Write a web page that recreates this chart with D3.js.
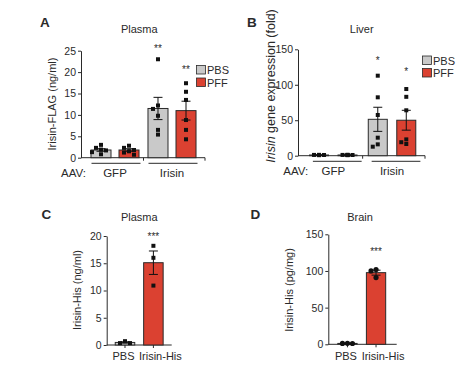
<!DOCTYPE html>
<html><head><meta charset="utf-8">
<script src="https://cdn.jsdelivr.net/npm/d3@7"></script>
<style>body{margin:0;background:#fff}svg{display:block}</style>
</head><body>
<script>
// ---------------- DATA ----------------
const aavGroups = ["GFP", "Irisin"];
const treatments = ["PBS", "PFF"];

// Panel A: Plasma Irisin-FLAG (ng/ml) [group][treatment]
const aMeans = [[1.8, 1.8], [11.5, 11.0]];
const aSem = [[0.3, 0.3], [2.6, 2.2]];
const aPoints = [
  [[3.0, 2.3, 1.9, 1.7, 1.3, 0.8], [2.8, 2.3, 1.8, 1.5, 1.2, 0.7]],
  [[23.0, 12.2, 11.4, 9.8, 6.5, 5.4], [17.4, 15.4, 13.5, 8.8, 6.5, 4.3]]
];
const aSig = [["", ""], ["**", "**"]];
const aSigAt = [[0, 0], [26, 21]];
const aTicks = [0, 5, 10, 15, 20, 25];

// Panel B: Liver Irisin gene expression (fold)
const bMeans = [[1.0, 1.0], [51.3, 50.0]];
const bSem = [[0.3, 0.3], [17, 14]];
const bPoints = [
  [[1.2, 0.8, 1.0, 1.1, 0.9, 1.0], [1.3, 0.9, 1.0, 1.1, 0.8, 1.0]],
  [[112.8, 82.3, 57.4, 25.4, 16.0, 12.7], [94, 83, 64, 23, 19, 16.5]]
];
const bSig = [["", ""], ["*", "*"]];
const bSigAt = [[0, 0], [137, 121]];
const bTicks = [0, 50, 100, 150];

// Panel C: Plasma Irisin-His (ng/ml)
const cCats = ["PBS", "Irisin-His"];
const cMeans = [0.47, 15.1];
const cSem = [0.12, 2.15];
const cPoints = [[0.7, 0.35, 0.35], [18.2, 16.0, 10.9]];
const cSig = ["", "***"];
const cSigAt = [0, 20.2];
const cTicks = [0, 5, 10, 15, 20];

// Panel D: Brain Irisin-His (pg/mg)
const dCats = ["PBS", "Irisin-His"];
const dMeans = [1.2, 97.7];
const dSem = [0.2, 3.4];
const dPoints = [[1.3, 1.2, 1.1], [102, 100, 91]];
const dSig = ["", "***"];
const dSigAt = [0, 129];
const dTicks = [0, 50, 100, 150];

// ---------------- STYLE ----------------
const FONT = "'Liberation Sans', Arial, Helvetica, sans-serif";
const INK = "#2a2a2a";
const GRAY = "#c9c9c9";
const RED = "#db4131";
const fillFor = {PBS: GRAY, PFF: RED, "Irisin-His": RED};

const svg = d3.select("body").append("svg")
  .attr("width", 465).attr("height", 367)
  .style("font-family", FONT);

function txt(x, y, s, size, opts = {}) {
  return svg.append("text").attr("x", x).attr("y", y).text(s)
    .attr("font-size", size).attr("fill", INK)
    .attr("text-anchor", opts.anchor || "middle")
    .attr("font-weight", opts.weight || "normal");
}

// deterministic beeswarm offsets
function swarm(vals, y, thr, steps) {
  const placed = [];
  const order = vals.map((v, i) => i).sort((a, b) => vals[b] - vals[a]);
  const out = new Array(vals.length);
  order.forEach(i => {
    const py = y(vals[i]);
    for (const dx of steps) {
      if (placed.every(p => Math.hypot(p.x - dx, p.y - py) >= thr)) {
        placed.push({x: dx, y: py}); out[i] = dx; return;
      }
    }
    out[i] = 0;
  });
  return out;
}

function yAxis(y, ticks, x) {
  const g = svg.append("g").attr("transform", `translate(${x},0)`)
    .call(d3.axisLeft(y).tickValues(ticks).tickSize(3).tickPadding(2).tickSizeOuter(0));
  g.select(".domain").attr("stroke", INK);
  g.selectAll(".tick line").attr("stroke", INK);
  g.selectAll(".tick text").attr("font-size", 10.5).attr("fill", INK).attr("font-family", FONT);
  return g;
}

function drawBar(cx, bw, y, mean, sem, pts, fill, marker, sig, sigAt) {
  svg.append("rect").attr("x", cx - bw / 2).attr("y", y(mean))
    .attr("width", bw).attr("height", y(0) - y(mean))
    .attr("fill", fill).attr("stroke", INK).attr("stroke-width", 1);
  const e = svg.append("g").attr("stroke", "#111").attr("stroke-width", 1);
  e.append("line").attr("x1", cx).attr("x2", cx).attr("y1", y(mean - sem)).attr("y2", y(mean + sem));
  [mean - sem, mean + sem].forEach(v =>
    e.append("line").attr("x1", cx - 4.5).attr("x2", cx + 4.5).attr("y1", y(v)).attr("y2", y(v)));
  const offs = swarm(pts, y, marker === "circle" ? 5 : 4.3, [0, -5, 5, -9, 9, -2.5, 2.5]);
  pts.forEach((v, i) => {
    if (marker === "circle") {
      svg.append("circle").attr("cx", cx + offs[i]).attr("cy", y(v)).attr("r", 2.6).attr("fill", "#111");
    } else {
      svg.append("rect").attr("x", cx + offs[i] - 2).attr("y", y(v) - 2)
        .attr("width", 4).attr("height", 4).attr("fill", "#111");
    }
  });
  if (sig) txt(cx, y(sigAt) + 5.5, sig, 10);
}

// ---------------- PANEL A & B (grouped) ----------------
function groupedPanel(cfg) {
  const y = d3.scaleLinear().domain([0, cfg.ymax]).range(cfg.yRange);
  const x0 = d3.scaleBand().domain(aavGroups).range(cfg.groupRange);
  const x1 = d3.scaleBand().domain(treatments).range([0, x0.bandwidth()])
    .paddingInner(cfg.pi).paddingOuter(cfg.po);
  yAxis(y, cfg.ticks, cfg.yAxisX);
  const y0 = y(0);
  svg.append("line").attr("x1", cfg.yAxisX).attr("x2", cfg.axisEnd).attr("y1", y0).attr("y2", y0).attr("stroke", INK);
  [x0(aavGroups[1]), cfg.axisEnd].forEach(tx =>
    svg.append("line").attr("x1", tx).attr("x2", tx).attr("y1", y0).attr("y2", y0 + 3).attr("stroke", INK));
  aavGroups.forEach((g, gi) => {
    treatments.forEach((t, ti) => {
      const cx = x0(g) + x1(t) + x1.bandwidth() / 2;
      drawBar(cx, x1.bandwidth(), y, cfg.means[gi][ti], cfg.sem[gi][ti], cfg.points[gi][ti],
        fillFor[t], "square", cfg.sig[gi][ti], cfg.sigAt[gi][ti]);
    });
    svg.append("line").attr("x1", x0(g) + cfg.bracket[0]).attr("x2", x0(g) + x0.bandwidth() - cfg.bracket[1])
      .attr("y1", cfg.bracketY).attr("y2", cfg.bracketY).attr("stroke", INK);
    txt(x0(g) + x0.bandwidth() / 2, cfg.labelY, g, 11.5);
  });
  txt(cfg.aavX, cfg.labelY, "AAV:", 11.5, {anchor: "start"});
  // legend
  treatments.forEach((t, i) => {
    svg.append("rect").attr("x", cfg.legX).attr("y", cfg.legY + i * 12.5).attr("width", 9).attr("height", 8.5)
      .attr("fill", fillFor[t]).attr("stroke", INK).attr("stroke-width", 0.8);
    txt(cfg.legX + 10.5, cfg.legY + i * 12.5 + 8.5, t, 11, {anchor: "start"});
  });
}

groupedPanel({
  ymax: 25, yRange: [157.7, 50.7], ticks: aTicks, yAxisX: 81,
  groupRange: [86.5, 200.5], pi: 0.2857, po: 0.16, axisEnd: 205,
  means: aMeans, sem: aSem, points: aPoints, sig: aSig, sigAt: aSigAt,
  bracket: [5, 3], bracketY: 163.3, labelY: 176.7, aavX: 61,
  legX: 196.5, legY: 65.5
});
groupedPanel({
  ymax: 150, yRange: [155.7, 49.3], ticks: bTicks, yAxisX: 298,
  groupRange: [303.9, 421.4], pi: 0.3333, po: 0.197, axisEnd: 425,
  means: bMeans, sem: bSem, points: bPoints, sig: bSig, sigAt: bSigAt,
  bracket: [9, 1], bracketY: 161.3, labelY: 174.5, aavX: 283.3,
  legX: 422.5, legY: 56
});

// ---------------- PANEL C & D (two bars) ----------------
function simplePanel(cfg) {
  const y = d3.scaleLinear().domain([0, cfg.ymax]).range(cfg.yRange);
  const x = d3.scaleBand().domain(cfg.cats).range(cfg.xRange).paddingInner(cfg.pi).paddingOuter(cfg.po);
  yAxis(y, cfg.ticks, cfg.yAxisX);
  const y0 = y(0);
  const g = svg.append("g").attr("transform", `translate(0,${y0})`)
    .call(d3.axisBottom(x).tickSize(3).tickPadding(2).tickSizeOuter(0));
  g.select(".domain").remove();
  g.selectAll(".tick line").attr("stroke", INK);
  g.selectAll(".tick text").remove();
  svg.append("line").attr("x1", cfg.yAxisX).attr("x2", cfg.xRange[1]).attr("y1", y0).attr("y2", y0).attr("stroke", INK);
  cfg.cats.forEach((c, i) => {
    const cx = x(c) + x.bandwidth() / 2;
    drawBar(cx, x.bandwidth(), y, cfg.means[i], cfg.sem[i], cfg.points[i],
      i === 0 ? GRAY : RED, cfg.marker, cfg.sig[i], cfg.sigAt[i]);
    txt(cx + (i === 0 ? -1.5 : 7), 360, c, 11);
  });
}

simplePanel({
  ymax: 20, yRange: [345, 236], ticks: cTicks, yAxisX: 106.7,
  cats: cCats, xRange: [106.7, 171.7], pi: 0.3134, po: 0.301,
  means: cMeans, sem: cSem, points: cPoints, sig: cSig, sigAt: cSigAt, marker: "square"
});
simplePanel({
  ymax: 150, yRange: [344.3, 234.3], ticks: dTicks, yAxisX: 328.3,
  cats: dCats, xRange: [326.8, 396.7], pi: 0.325, po: 0.385,
  means: dMeans, sem: dSem, points: dPoints, sig: dSig, sigAt: dSigAt, marker: "circle"
});

// ---------------- TITLES & LABELS ----------------
txt(40, 27.3, "A", 13.5, {anchor: "start", weight: "bold"});
txt(247, 27.3, "B", 13.5, {anchor: "start", weight: "bold"});
txt(41.5, 219, "C", 13.5, {anchor: "start", weight: "bold"});
txt(250.5, 219, "D", 13.5, {anchor: "start", weight: "bold"});

txt(139.3, 33, "Plasma", 11);
txt(361.7, 32.5, "Liver", 11);
txt(139.3, 220.5, "Plasma", 11);
txt(360, 220.7, "Brain", 11);

function yLabel(x, y, s, size) {
  return svg.append("text").attr("transform", `translate(${x},${y}) rotate(-90)`)
    .attr("text-anchor", "middle").attr("font-size", size).attr("fill", INK).text(s);
}
yLabel(55.5, 104, "Irisin-FLAG (ng/ml)", 11);
const bl = svg.append("text").attr("transform", "translate(275,86) rotate(-90)")
  .attr("text-anchor", "middle").attr("font-size", 12.5).attr("fill", INK);
bl.append("tspan").attr("font-style", "italic").text("Irisin");
bl.append("tspan").text(" gene expression (fold)");
yLabel(80.5, 290, "Irisin-His (ng/ml)", 11);
yLabel(293, 290, "Irisin-His (pg/mg)", 11);
</script>
</body></html>
